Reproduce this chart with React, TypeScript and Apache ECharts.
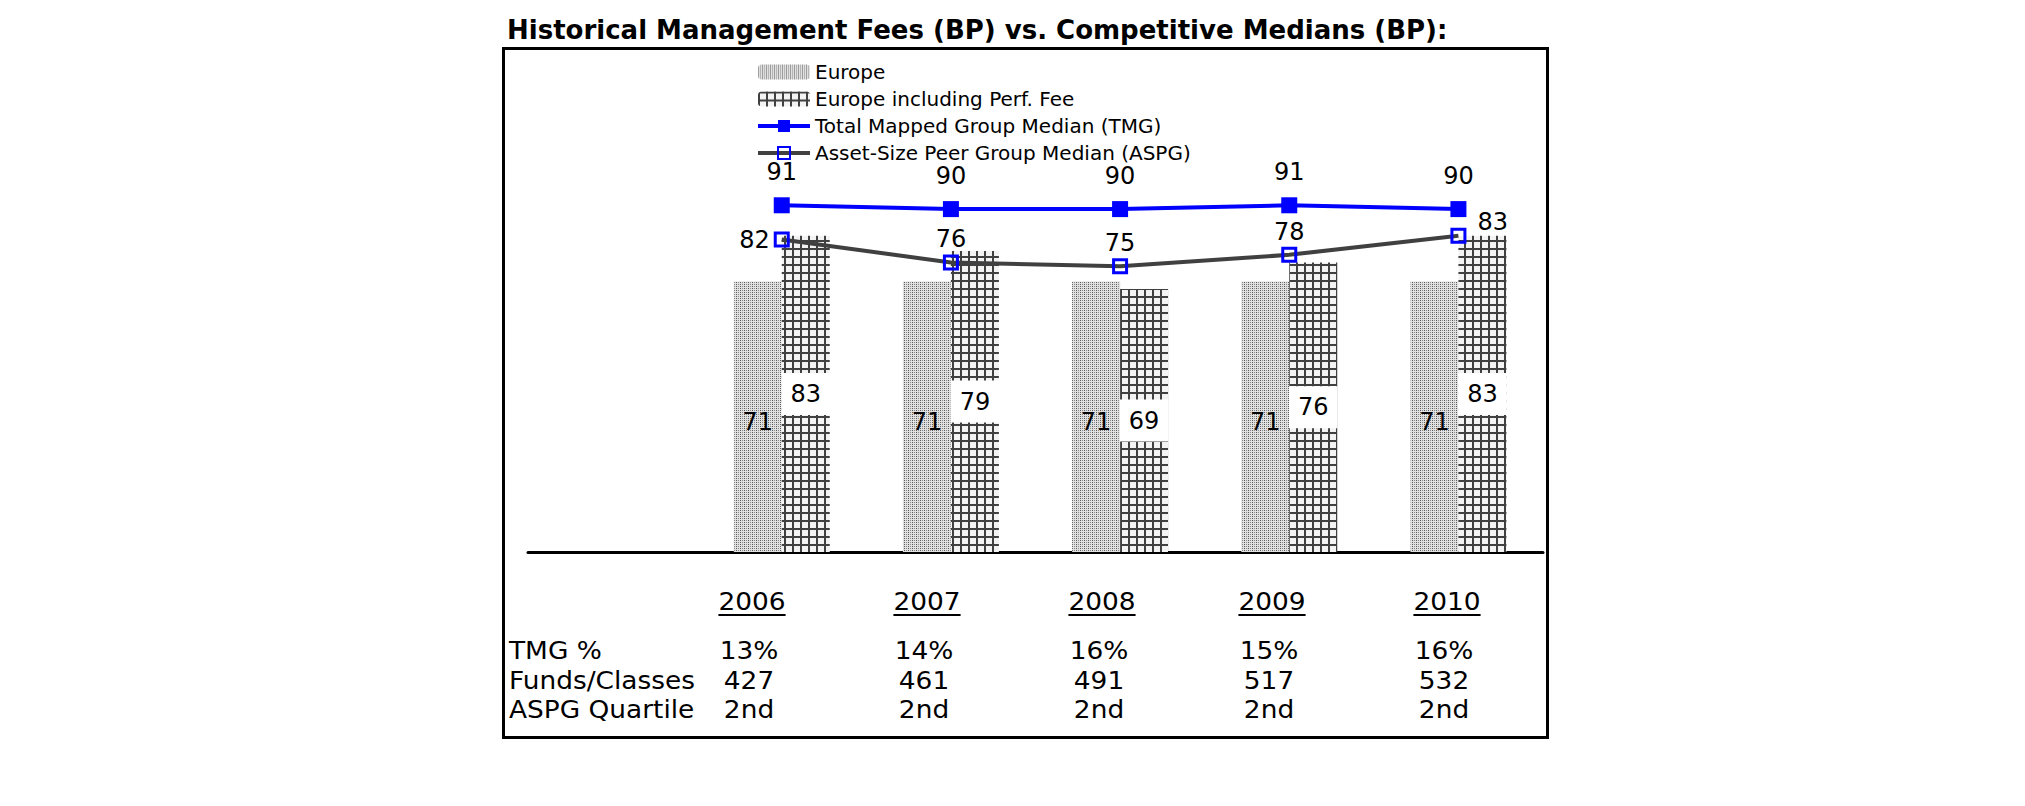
import React, { useEffect, useRef } from 'react';
import * as echarts from 'echarts';

// ---------- data ----------
const categories = ['', '2006', '2007', '2008', '2009', '2010'];
const europe = ['-', 71, 71, 71, 71, 71];
const europePerfFee = ['-', 83, 79, 69, 76, 83];
const tmgMedian = ['-', 91, 90, 90, 91, 90];
const aspgMedian = ['-', 82, 76, 75, 78, 83];

const tableYears = ['2006', '2007', '2008', '2009', '2010'];
const rowLabels = ['TMG %', 'Funds/Classes', 'ASPG Quartile'];
const tmgPct = ['13%', '14%', '16%', '15%', '16%'];
const fundsClasses = ['427', '461', '491', '517', '532'];
const aspgQuartile = ['2nd', '2nd', '2nd', '2nd', '2nd'];

const seriesNames = [
  'Europe',
  'Europe including Perf. Fee',
  'Total Mapped Group Median (TMG)',
  'Asset-Size Peer Group Median (ASPG)',
];
const titleText = 'Historical Management Fees (BP) vs. Competitive Medians (BP):';

// ---------- layout ----------
const FONT = 'DejaVu Sans';
const TABLE_COL_X = [752, 927, 1102, 1272, 1447];
const TABLE_VAL_DX = -3;
const TABLE_ROW_Y = [651, 681, 710];
const YEAR_Y = 602;
const UNDERLINE_Y = 615;
const TABLE_FONT = 24;
const TABLE_SX = 1.1;

function makeStipple() {
  const c = document.createElement('canvas');
  c.width = 4;
  c.height = 2;
  const ctx = c.getContext('2d')!;
  const D = '#5a5a5a', M = '#8a8a8a', L = '#e0e0e0';
  const grid = [
    [D, L, M, L],
    [L, L, L, L],
  ];
  grid.forEach((row, y) => row.forEach((col, x) => { ctx.fillStyle = col; ctx.fillRect(x, y, 1, 1); }));
  return { image: c, repeat: 'repeat', imageWidth: 4, imageHeight: 2 };
}

function makeGrid() {
  const c = document.createElement('canvas');
  c.width = 8;
  c.height = 8;
  const ctx = c.getContext('2d')!;
  ctx.fillStyle = '#f3f3f3';
  ctx.fillRect(0, 0, 8, 8);
  ctx.fillStyle = '#404040';
  ctx.fillRect(0, 0, 8, 2);
  ctx.fillRect(0, 0, 2, 8);
  return { image: c, repeat: 'repeat', imageWidth: 8, imageHeight: 8 };
}

function measure(text: string, size: number, weight = 'normal') {
  const c = document.createElement('canvas');
  const ctx = c.getContext('2d')!;
  ctx.font = `${weight} ${size}px "${FONT}"`;
  return ctx.measureText(text).width;
}

export default function App() {
  const ref = useRef<HTMLDivElement>(null);

  useEffect(() => {
    const chart = echarts.init(ref.current!, null, { renderer: 'svg' });
    const stipple = makeStipple();
    const gridPat = makeGrid();

    const graphics: any[] = [];
    graphics.push({
      type: 'rect',
      shape: { x: 503.5, y: 48.5, width: 1044, height: 689 },
      style: { fill: 'none', stroke: '#000', lineWidth: 3 },
      silent: true,
    });
    graphics.push({
      type: 'text',
      x: 507,
      y: 30,
      style: {
        text: titleText,
        fill: '#000',
        fontSize: 26,
        fontWeight: 'bold',
        fontFamily: FONT,
        textAlign: 'left',
        align: 'left',
        textVerticalAlign: 'middle',
        verticalAlign: 'middle',
      },
    });
    const tText = (text: string, x: number, y: number, align: string) => ({
      type: 'text',
      x,
      y,
      scaleX: TABLE_SX,
      style: {
        text,
        fill: '#000',
        fontSize: TABLE_FONT,
        fontFamily: FONT,
        textAlign: align,
        align,
        textVerticalAlign: 'middle',
        verticalAlign: 'middle',
      },
    });
    tableYears.forEach((yr, i) => {
      const x = TABLE_COL_X[i];
      graphics.push(tText(yr, x, YEAR_Y, 'center'));
      const w = measure(yr, TABLE_FONT) * TABLE_SX;
      graphics.push({
        type: 'line',
        shape: { x1: x - w / 2, y1: UNDERLINE_Y, x2: x + w / 2, y2: UNDERLINE_Y },
        style: { stroke: '#000', lineWidth: 2 },
      });
    });
    rowLabels.forEach((lab, r) => graphics.push(tText(lab, 509, TABLE_ROW_Y[r], 'left')));
    [tmgPct, fundsClasses, aspgQuartile].forEach((row, r) =>
      row.forEach((v, i) => graphics.push(tText(v, TABLE_COL_X[i] + TABLE_VAL_DX, TABLE_ROW_Y[r], 'center')))
    );

    const labelBase = { fontFamily: FONT, fontSize: 24, color: '#000' };

    const aspgData = aspgMedian.map((v, i) => {
      if (i === 1) return { value: v, label: { position: 'left', distance: 4 } };
      if (i === aspgMedian.length - 1)
        return { value: v, label: { position: 'right', distance: 11, offset: [0, -14] } };
      return v;
    });

    const option: any = {
      animation: false,
      backgroundColor: '#fff',
      textStyle: { fontFamily: FONT },
      grid: { left: 528, right: 482, top: 171, bottom: 254, containLabel: false },
      legend: {
        orient: 'vertical',
        left: 756,
        top: 61,
        itemWidth: 52,
        itemHeight: 15,
        itemGap: 5,
        padding: 0,
        lineStyle: { width: 4 },
        textStyle: { fontFamily: FONT, fontSize: 20, color: '#000', lineHeight: 22 },
        data: seriesNames,
      },
      xAxis: {
        type: 'category',
        data: categories,
        boundaryGap: true,
        axisLine: { lineStyle: { color: '#000', width: 3 } },
        axisTick: { show: false },
        axisLabel: { show: false },
        splitLine: { show: false },
      },
      yAxis: {
        type: 'value',
        min: 0,
        max: 100,
        show: false,
        splitLine: { show: false },
      },
      series: [
        {
          name: seriesNames[0],
          type: 'bar',
          data: europe,
          barWidth: 48,
          barGap: '0%',
          itemStyle: { color: stipple },
          label: { show: true, position: 'inside', offset: [0, 5], ...labelBase },
          z: 2,
        },
        {
          name: seriesNames[1],
          type: 'bar',
          data: europePerfFee,
          barWidth: 48,
          barGap: '0%',
          itemStyle: { color: gridPat },
          label: {
            show: true,
            position: 'inside',
            ...labelBase,
            backgroundColor: '#fff',
            padding: [9, 9],
          },
          z: 2,
        },
        {
          name: seriesNames[2],
          type: 'line',
          data: tmgMedian,
          symbol: 'rect',
          symbolSize: 16,
          lineStyle: { color: '#0000ff', width: 4 },
          itemStyle: { color: '#0000ff' },
          label: { show: true, position: 'top', distance: 13, ...labelBase },
          z: 5,
        },
        {
          name: seriesNames[3],
          type: 'line',
          data: aspgData,
          symbol: 'rect',
          symbolSize: 13,
          lineStyle: { color: '#404040', width: 4 },
          itemStyle: { color: 'rgba(255,255,255,0)', borderColor: '#0000ff', borderWidth: 3 },
          label: { show: true, position: 'top', distance: 3, ...labelBase },
          z: 5,
        },
      ],
      graphic: graphics,
    };

    chart.setOption(option);
    return () => chart.dispose();
  }, []);

  return (
    <div
      ref={ref}
      style={{ position: 'absolute', left: 0, top: 0, width: 2025, height: 806, background: '#fff' }}
    />
  );
}
